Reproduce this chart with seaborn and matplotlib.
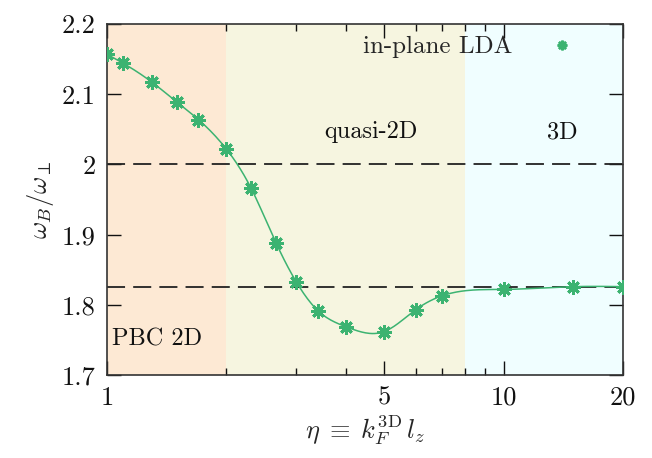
import numpy as np
import pandas as pd
import matplotlib
matplotlib.use("Agg")
import matplotlib.pyplot as plt
import seaborn as sns
from matplotlib.ticker import FixedLocator, FixedFormatter, NullFormatter

# data
eta = [1.0, 1.1, 1.3, 1.5, 1.7, 2.0, 2.31, 2.67, 3.0, 3.4, 4.0, 5.0, 6.0, 7.0, 10.0, 15.0, 20.0]
omega = [2.157, 2.144, 2.117, 2.089, 2.064, 2.022, 1.966, 1.888, 1.833, 1.792,
         1.769, 1.762, 1.793, 1.813, 1.822, 1.826, 1.826]
hlines = [2.0, 1.825]
regions = [(1.0, 2.0, "#fde9d4"), (2.0, 8.0, "#f6f5e0"), (8.0, 20.0, "#f0feff")]
region_labels = [("PBC 2D", 1.34, 1.751), ("quasi-2D", 4.63, 2.046), ("3D", 14.1, 2.046)]
yticks = [1.7, 1.8, 1.9, 2.0, 2.1, 2.2]
ytick_labels = ["1.7", "1.8", "1.9", "2", "2.1", "2.2"]
xticks = [1, 5, 10, 20]
xtick_labels = ["1", "5", "10", "20"]
xminor = [2, 3, 4, 6, 7, 8, 9]

green = "#3cb371"

sns.set_theme(style="ticks")
plt.rcParams["font.family"] = ["cmr10", "DejaVu Serif"]
plt.rcParams["mathtext.fontset"] = "cm"
plt.rcParams["axes.unicode_minus"] = False


def natural_spline(x, y, n=400):
    # natural cubic spline (like gnuplot smooth csplines), in log-x space
    x = np.asarray(x, float)
    y = np.asarray(y, float)
    m = len(x)
    h = np.diff(x)
    A = np.zeros((m, m))
    b = np.zeros(m)
    A[0, 0] = A[-1, -1] = 1
    for i in range(1, m - 1):
        A[i, i - 1] = h[i - 1]
        A[i, i] = 2 * (h[i - 1] + h[i])
        A[i, i + 1] = h[i]
        b[i] = 3 * ((y[i + 1] - y[i]) / h[i] - (y[i] - y[i - 1]) / h[i - 1])
    c = np.linalg.solve(A, b)
    xs = np.linspace(x[0], x[-1], n)
    idx = np.clip(np.searchsorted(x, xs) - 1, 0, m - 2)
    dx = xs - x[idx]
    bb = (y[idx + 1] - y[idx]) / h[idx] - h[idx] * (2 * c[idx] + c[idx + 1]) / 3
    dd = (c[idx + 1] - c[idx]) / (3 * h[idx])
    ys = y[idx] + bb * dx + c[idx] * dx ** 2 + dd * dx ** 3
    return xs, ys


lx, ly = natural_spline(np.log10(eta), omega)
curve = pd.DataFrame({"eta": 10 ** lx, "omega": ly})
pts = pd.DataFrame({"eta": eta, "omega": omega})

fig = plt.figure(figsize=(6.52, 4.58), dpi=100)
ax = fig.add_axes([0.164, 0.181, 0.7915, 0.7665])

for x0, x1, col in regions:
    ax.axvspan(x0, x1, color=col, lw=0, zorder=0)
for yv in hlines:
    ax.axhline(yv, color="#222222", lw=1.3, dashes=(10, 4.5), zorder=1)

sns.lineplot(data=curve, x="eta", y="omega", ax=ax, color=green, lw=1.1,
             zorder=2, legend=False)
ax.plot(pts["eta"], pts["omega"], ls="none", marker=(8, 2, 0), ms=10.5,
        mew=2.1, color=green, zorder=3, label="in-plane LDA")

for txt, xv, yv in region_labels:
    ax.text(xv, yv, txt, fontsize=17.5, ha="center", va="center", color="#111111")

ax.set_xscale("log")
ax.set_xlim(1, 20)
ax.set_ylim(1.7, 2.2)
ax.xaxis.set_major_locator(FixedLocator(xticks))
ax.xaxis.set_major_formatter(FixedFormatter(xtick_labels))
ax.xaxis.set_minor_locator(FixedLocator(xminor))
ax.xaxis.set_minor_formatter(NullFormatter())
ax.yaxis.set_major_locator(FixedLocator(yticks))
ax.yaxis.set_major_formatter(FixedFormatter(ytick_labels))
ax.tick_params(which="both", direction="in", top=True, right=True,
               labelsize=19, colors="#111111", width=1.0)
ax.tick_params(which="major", length=10, pad=8)
ax.tick_params(which="minor", length=5)
for s in ax.spines.values():
    s.set_color("#333333")
    s.set_linewidth(1.2)

ax.set_xlabel(r"$\eta\;\equiv\;k_F^{\rm 3D}\, l_z$", fontsize=19, labelpad=2)
ax.set_ylabel(r"$\omega_B/\omega_\perp$", fontsize=19, labelpad=4)

leg = ax.legend(loc="center right", bbox_to_anchor=(0.906, 0.934), frameon=False,
                markerfirst=False, fontsize=18, handlelength=1.0,
                handletextpad=1.5, borderaxespad=0, borderpad=0)
for h in leg.legend_handles:
    h.set_markersize(7)
    h.set_markeredgewidth(1.8)

fig.savefig("out.png", dpi=100)
